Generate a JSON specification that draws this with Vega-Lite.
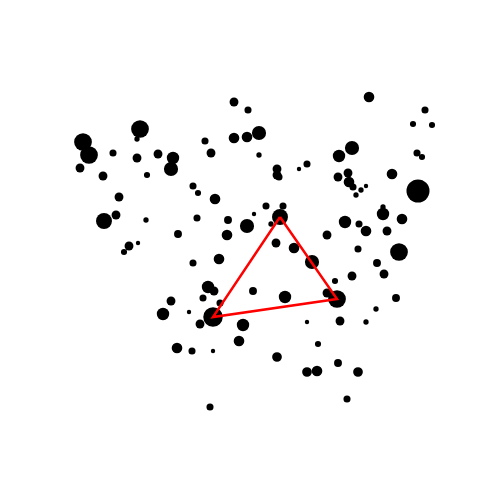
{
  "$schema": "https://vega.github.io/schema/vega-lite/v6.json",
  "width": 500,
  "height": 500,
  "padding": 0,
  "autosize": "none",
  "config": {"view": {"stroke": null}},
  "datasets": {
    "pts": [
      {"x":83,"y":142,"v":100},{"x":89,"y":155,"v":100},{"x":140,"y":129,"v":100},{"x":137,"y":139,"v":9},
      {"x":113,"y":153,"v":16},{"x":137,"y":158,"v":25},{"x":158,"y":154,"v":25},{"x":173,"y":158,"v":49},
      {"x":171,"y":169,"v":64},{"x":80,"y":168,"v":25},{"x":103,"y":176,"v":25},{"x":147,"y":175,"v":12},
      {"x":119,"y":197,"v":25},{"x":234,"y":102,"v":25},{"x":248,"y":110,"v":16},{"x":234,"y":138,"v":36},
      {"x":247,"y":137,"v":36},{"x":259,"y":133,"v":64},{"x":259,"y":155,"v":9},{"x":205,"y":141,"v":16},
      {"x":211,"y":153,"v":25},{"x":277,"y":169,"v":25},{"x":277,"y":175,"v":25},{"x":279,"y":177,"v":16},
      {"x":299,"y":169,"v":6},{"x":307,"y":164,"v":16},{"x":193,"y":186,"v":16},{"x":198,"y":193,"v":12},
      {"x":215,"y":199,"v":36},{"x":266,"y":206,"v":16},{"x":283,"y":206,"v":16},{"x":369,"y":97,"v":36},
      {"x":425,"y":110,"v":16},{"x":413,"y":124,"v":12},{"x":432,"y":125,"v":12},{"x":339,"y":156,"v":49},
      {"x":352,"y":148,"v":64},{"x":417,"y":153,"v":16},{"x":422,"y":157,"v":12},{"x":338,"y":177,"v":25},
      {"x":348,"y":173,"v":25},{"x":349,"y":182,"v":36},{"x":353,"y":187,"v":16},{"x":361,"y":190,"v":9},
      {"x":356,"y":195,"v":9},{"x":366,"y":186,"v":6},{"x":392,"y":174,"v":36},{"x":418,"y":191,"v":169},
      {"x":104,"y":221,"v":81},{"x":116,"y":215,"v":25},{"x":146,"y":220,"v":9},{"x":178,"y":234,"v":20},
      {"x":129,"y":246,"v":25},{"x":124,"y":252,"v":12},{"x":138,"y":243,"v":6},{"x":171,"y":301,"v":25},
      {"x":163,"y":314,"v":49},{"x":197,"y":218,"v":16},{"x":228,"y":220,"v":20},{"x":247,"y":226,"v":64},
      {"x":254,"y":214,"v":6},{"x":280,"y":217,"v":81},{"x":271,"y":224,"v":9},{"x":227,"y":235,"v":36},
      {"x":276,"y":243,"v":25},{"x":294,"y":248,"v":36},{"x":193,"y":263,"v":16},{"x":219,"y":259,"v":36},
      {"x":208,"y":287,"v":49},{"x":214,"y":291,"v":25},{"x":203,"y":298,"v":16},{"x":220,"y":303,"v":16},
      {"x":253,"y":291,"v":20},{"x":285,"y":297,"v":49},{"x":189,"y":312,"v":6},{"x":213,"y":317,"v":121},
      {"x":200,"y":324,"v":25},{"x":243,"y":325,"v":49},{"x":383,"y":214,"v":49},{"x":383,"y":207,"v":9},
      {"x":402,"y":219,"v":36},{"x":345,"y":222,"v":49},{"x":359,"y":224,"v":16},{"x":366,"y":231,"v":36},
      {"x":387,"y":231,"v":25},{"x":327,"y":235,"v":25},{"x":399,"y":252,"v":100},{"x":358,"y":249,"v":16},
      {"x":312,"y":262,"v":64},{"x":377,"y":263,"v":20},{"x":384,"y":274,"v":25},{"x":352,"y":276,"v":25},
      {"x":335,"y":281,"v":12},{"x":327,"y":293,"v":25},{"x":337,"y":299,"v":100},{"x":396,"y":298,"v":20},
      {"x":376,"y":309,"v":9},{"x":307,"y":322,"v":6},{"x":340,"y":321,"v":25},{"x":366,"y":322,"v":9},
      {"x":239,"y":341,"v":36},{"x":177,"y":348,"v":36},{"x":192,"y":351,"v":16},{"x":213,"y":351,"v":6},
      {"x":210,"y":407,"v":16},{"x":318,"y":344,"v":12},{"x":277,"y":357,"v":30},{"x":307,"y":372,"v":30},
      {"x":317,"y":371,"v":36},{"x":338,"y":363,"v":20},{"x":358,"y":372,"v":30},{"x":347,"y":399,"v":16}
    ],
    "tri": [
      {"x":280,"y":217,"o":0},{"x":337,"y":299,"o":1},{"x":213,"y":317,"o":2},{"x":280,"y":217,"o":3}
    ]
  },
  "layer": [
    {
      "data": {"name": "pts"},
      "mark": {"type": "circle", "color": "black", "opacity": 1},
      "encoding": {
        "x": {"field": "x", "type": "quantitative", "scale": {"domain": [0, 500], "nice": false, "zero": false}, "axis": null},
        "y": {"field": "y", "type": "quantitative", "scale": {"domain": [0, 500], "nice": false, "zero": false, "reverse": true}, "axis": null},
        "size": {"field": "v", "type": "quantitative", "scale": {"type": "linear", "domain": [0, 100], "range": [0, 314.16], "zero": true}, "legend": null}
      }
    },
    {
      "data": {"name": "tri"},
      "mark": {"type": "line", "color": "red", "strokeWidth": 2.5},
      "encoding": {
        "x": {"field": "x", "type": "quantitative"},
        "y": {"field": "y", "type": "quantitative"},
        "order": {"field": "o"}
      }
    }
  ]
}
